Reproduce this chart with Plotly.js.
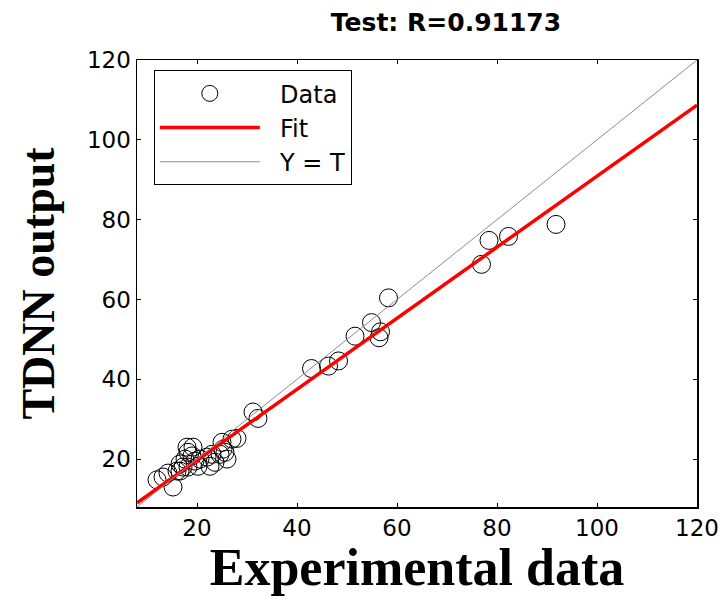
<!DOCTYPE html>
<html>
<head>
<meta charset="utf-8">
<script src="https://cdn.plot.ly/plotly-3.0.1.min.js"></script>
<style>html,body{margin:0;padding:0;background:#fff;}#chart{width:724px;height:596px;}</style>
</head>
<body>
<div id="chart"></div>
<script>
// Experimental (target) values and TDNN outputs
const targets = [
  12.0, 13.2, 15.2, 14.2, 16.0, 16.6, 17.2, 17.6, 18.2, 18.0,
  19.2, 19.0, 19.6, 20.2, 18.2, 16.6, 20.6, 22.0, 23.0, 23.6,
  22.6, 24.6, 25.6, 26.0, 25.0, 27.0, 28.0, 25.2, 31.2, 32.2,
  42.9, 46.3, 48.3, 51.6, 54.9, 56.7, 56.4, 58.3, 76.9, 78.4,
  82.3, 91.8
];
const outputs = [
  14.8, 15.5, 13.0, 16.5, 17.0, 18.8, 18.0, 20.0, 21.7, 23.0,
  23.0, 20.8, 19.5, 18.2, 18.0, 17.0, 20.0, 20.5, 21.2, 19.2,
  18.2, 21.2, 21.7, 20.0, 24.2, 25.0, 25.2, 22.5, 31.8, 30.2,
  42.7, 43.3, 44.6, 50.8, 54.2, 51.9, 50.4, 60.4, 68.8, 74.8,
  75.8, 78.8
];
// Fit line end points and identity line end points
const fitX = [8, 120];
const fitY = [9.0, 108.7];
const idX = [8, 120];
const idY = [8, 120];
const tickVals = [20, 40, 60, 80, 100, 120];
const tickText = ['20', '40', '60', '80', '100', '120'];
const seriesNames = ['&nbsp;&nbsp;Data', '&nbsp;&nbsp;Fit', '&nbsp;&nbsp;Y = T'];

const sans = 'DejaVu Sans, Liberation Sans, Arial, sans-serif';
const serif = 'Liberation Serif, Times New Roman, serif';

const traces = [
  {
    x: targets, y: outputs, type: 'scatter', mode: 'markers', name: seriesNames[0],
    marker: {symbol: 'circle-open', size: 18, color: '#000', line: {width: 1, color: '#000'}}
  },
  {
    x: fitX, y: fitY, type: 'scatter', mode: 'lines', name: seriesNames[1],
    line: {color: '#ff0000', width: 3.5}
  },
  {
    x: idX, y: idY, type: 'scatter', mode: 'lines', name: seriesNames[2],
    line: {color: '#8c8c8c', width: 1}
  }
];

const axisCommon = {
  showgrid: false, zeroline: false, showline: true, linecolor: '#000', linewidth: 1.5,
  mirror: 'allticks', ticks: 'inside', ticklen: 4, tickcolor: '#000', tickwidth: 1,
  tickvals: tickVals, ticktext: tickText,
  tickfont: {family: sans, size: 23, color: '#000'}
};

const layout = {
  width: 724, height: 596,
  margin: {l: 137, r: 27, t: 60, b: 89},
  paper_bgcolor: '#fff', plot_bgcolor: '#fff',
  title: {
    text: '<b>Test: R=0.91173</b>',
    font: {family: sans, size: 25, color: '#000'},
    x: 0.616, xanchor: 'center', y: 0.963, yanchor: 'middle'
  },
  xaxis: Object.assign({}, axisCommon, {
    range: [8, 120],
    title: {text: '<b>Experimental data</b>', standoff: 19,
      font: {family: serif, size: 52, color: '#000'}}
  }),
  yaxis: Object.assign({}, axisCommon, {
    range: [8, 120],
    title: {text: '<b>TDNN output</b>', standoff: 18,
      font: {family: serif, size: 46, color: '#000'}}
  }),
  showlegend: true,
  legend: {
    x: 0.03, y: 0.977, xanchor: 'left', yanchor: 'top',
    bgcolor: '#fff', bordercolor: '#000', borderwidth: 1,
    font: {family: sans, size: 24, color: '#000'},
    itemwidth: 100, tracegroupgap: 0
  }
};

Plotly.newPlot('chart', traces, layout, {displayModeBar: false, staticPlot: true});
</script>
</body>
</html>
